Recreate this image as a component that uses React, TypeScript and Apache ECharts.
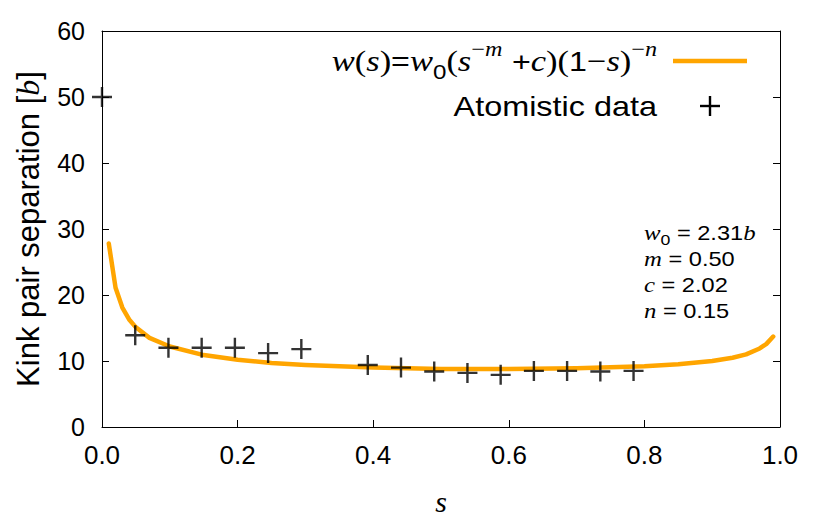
import React, { useEffect, useRef } from "react";
import * as echarts from "echarts";

// Fitted curve w(s) (s, w in units of b)
const fitS = [0.01, 0.02, 0.03, 0.04, 0.05, 0.07, 0.1, 0.15, 0.2, 0.25, 0.3, 0.4, 0.5, 0.6, 0.7, 0.8, 0.85, 0.9, 0.93, 0.95, 0.97, 0.98, 0.99];
const fitW = [27.8, 21.1, 18.1, 16.3, 15.1, 13.5, 12.2, 10.9, 10.2, 9.7, 9.4, 9.0, 8.8, 8.8, 8.9, 9.2, 9.5, 10.0, 10.5, 11.0, 11.9, 12.6, 13.7];

// Atomistic data points
const dataS = [0.0, 0.049, 0.098, 0.147, 0.196, 0.245, 0.294, 0.392, 0.441, 0.49, 0.539, 0.588, 0.637, 0.686, 0.735, 0.784];
const dataW = [50, 13.9, 12.0, 12.0, 12.0, 11.2, 11.8, 9.4, 9.0, 8.4, 8.2, 7.9, 8.5, 8.5, 8.4, 8.5];

const xTicks = [0, 0.2, 0.4, 0.6, 0.8, 1.0];
const yTicks = [0, 10, 20, 30, 40, 50, 60];

const paramLines = [
  "{it|w}{sub|0}{rm| = 2.31}{it|b}",
  "{it|m}{rm| = 0.50}",
  "{it|c}{rm| = 2.02}",
  "{it|n}{rm| = 0.15}",
];

const SANS = "'Liberation Sans', Arial, Helvetica, sans-serif";
const SERIF = "'Liberation Serif', 'Times New Roman', serif";
const ORANGE = "#FFA500";

const PLUS =
  "path://M44,0 H56 V44 H100 V56 H56 V100 H44 V56 H0 V44 H44 Z";

export default function App() {
  const ref = useRef<HTMLDivElement>(null);
  useEffect(() => {
    if (!ref.current) return;
    document.body.style.margin = "0";
    const chart = echarts.init(ref.current, null, { renderer: "svg" });
    const fit = fitS.map((s, i) => [s, fitW[i]]);
    const pts = dataS.map((s, i) => [s, dataW[i]]);
    const fs = 30;
    const formulaRich: any = {
      it: { fontFamily: SERIF, fontStyle: "italic", fontSize: fs, lineHeight: fs, verticalAlign: "middle", color: "#000" },
      rm: { fontFamily: SERIF, fontSize: fs, lineHeight: fs, verticalAlign: "middle", color: "#000" },
      sa: { fontFamily: SANS, fontSize: fs - 2, lineHeight: fs, verticalAlign: "middle", color: "#000" },
      sup: { fontFamily: SERIF, fontSize: 21, lineHeight: 21, verticalAlign: "top", color: "#000" },
      supi: { fontFamily: SERIF, fontStyle: "italic", fontSize: 21, lineHeight: 21, verticalAlign: "top", color: "#000" },
      sub: { fontFamily: SANS, fontSize: 21, lineHeight: 21, verticalAlign: "bottom", color: "#000" },
      sp: { fontSize: fs, lineHeight: 44, verticalAlign: "middle" },
    };
    const pfs = 20;
    const paramRich: any = {
      it: { fontFamily: SERIF, fontStyle: "italic", fontSize: pfs + 1, lineHeight: pfs, verticalAlign: "middle", color: "#000" },
      rm: { fontFamily: SANS, fontSize: pfs, lineHeight: 28, verticalAlign: "middle", color: "#000" },
      sub: { fontFamily: SANS, fontSize: 15, lineHeight: 15, verticalAlign: "bottom", color: "#000" },
    };
    chart.setOption({
      animation: false,
      backgroundColor: "#fff",
      grid: { left: 102, right: 50, top: 31, bottom: 89, containLabel: false },
      xAxis: [
        {
          type: "value",
          position: "bottom",
          min: 0,
          max: 1,
          interval: 0.2,
          name: "s",
          nameLocation: "middle",
          nameGap: 59,
          nameTextStyle: { fontFamily: SERIF, fontStyle: "italic", fontSize: 30, color: "#000" },
          axisLine: { show: true, lineStyle: { color: "#000", width: 1 } },
          axisTick: { show: true, inside: true, length: 7, lineStyle: { color: "#000" } },
          axisLabel: {
            fontFamily: SANS,
            fontSize: 26,
            color: "#000",
            margin: 15,
            formatter: (v: number) => (xTicks.some((t) => Math.abs(t - v) < 1e-9) ? v.toFixed(1) : ""),
          },
          splitLine: { show: false },
        },
        {
          type: "value",
          position: "top",
          min: 0,
          max: 1,
          interval: 0.2,
          axisLine: { show: true, onZero: false, lineStyle: { color: "#000", width: 1 } },
          axisTick: { show: false },
          axisLabel: { show: false },
          splitLine: { show: false },
        },
      ],
      yAxis: [
        {
          type: "value",
          position: "left",
          min: 0,
          max: 60,
          interval: 10,
          name: "Kink pair separation [{it|b}]",
          nameLocation: "middle",
          nameGap: 58,
          nameRotate: 90,
          nameTextStyle: {
            fontFamily: SANS,
            fontSize: 31,
            color: "#000",
            rich: { it: { fontFamily: SERIF, fontStyle: "italic", fontSize: 32, color: "#000" } },
          },
          axisLine: { show: true, lineStyle: { color: "#000", width: 1 } },
          axisTick: { show: true, inside: true, length: 7, lineStyle: { color: "#000" } },
          axisLabel: {
            fontFamily: SANS,
            fontSize: 25,
            color: "#000",
            margin: 17,
            formatter: (v: number) => (yTicks.includes(v) ? String(v) : ""),
          },
          splitLine: { show: false },
        },
        {
          type: "value",
          position: "right",
          min: 0,
          max: 60,
          interval: 10,
          axisLine: { show: true, onZero: false, lineStyle: { color: "#000", width: 1 } },
          axisTick: { show: true, inside: true, length: 7, lineStyle: { color: "#000" } },
          axisLabel: { show: false },
          splitLine: { show: false },
        },
      ],
      series: [
        {
          type: "line",
          name: "fit",
          data: fit,
          xAxisIndex: 0,
          yAxisIndex: 0,
          showSymbol: false,
          smooth: false,
          lineStyle: { color: ORANGE, width: 4.5, cap: "round", join: "round" },
          z: 2,
        },
        {
          type: "scatter",
          name: "Atomistic data",
          data: pts,
          xAxisIndex: 0,
          yAxisIndex: 0,
          symbol: PLUS,
          symbolSize: 20,
          itemStyle: { color: "#000" },
          clip: false,
          z: 3,
        },
      ],
      graphic: [
        {
          type: "text",
          x: 657,
          y: 61,
          scaleX: 1.15,
          style: {
            text: "{it|w}{rm|(}{it|s}{rm|)}{sa|=}{it|w}{sub|0}{rm|(}{it|s}{sup|−}{supi|m}{sp| }{sa|+}{it|c}{rm|)(}{sa|1}{rm|−}{it|s}{rm|)}{sup|−}{supi|n}",
            rich: formulaRich,
            align: "right",
            verticalAlign: "middle",
          },
        },
        {
          type: "line",
          shape: { x1: 673, y1: 61, x2: 747, y2: 61 },
          style: { stroke: ORANGE, lineWidth: 4.5 },
        },
        {
          type: "text",
          x: 657,
          y: 106,
          scaleX: 1.2,
          style: {
            text: "Atomistic data",
            fontFamily: SANS,
            fontSize: 27,
            fill: "#000",
            align: "right",
            verticalAlign: "middle",
          },
        },
        {
          type: "rect",
          shape: { x: 700, y: 106 - 1.2, width: 20, height: 2.4 },
          style: { fill: "#000" },
        },
        {
          type: "rect",
          shape: { x: 708.8, y: 96, width: 2.4, height: 20 },
          style: { fill: "#000" },
        },
        ...paramLines.map((t, i) => ({
          type: "text",
          x: 644,
          y: 233 + i * 26,
          scaleX: 1.18,
          style: {
            text: t,
            rich: paramRich,
            align: "left",
            verticalAlign: "middle",
          },
        })),
      ],
    });
    return () => chart.dispose();
  }, []);
  return <div ref={ref} style={{ position: "absolute", left: 0, top: 0, width: 830, height: 521 }} />;
}
